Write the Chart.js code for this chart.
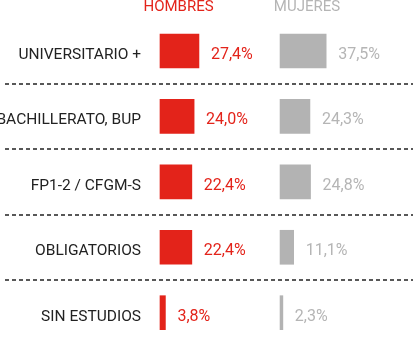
<!DOCTYPE html>
<html>
<head>
<meta charset="utf-8">
<script src="https://cdn.jsdelivr.net/npm/chart.js@4"></script>
<style>
  html, body { margin: 0; padding: 0; background: #fff; }
  #wrap { width: 413px; height: 341px; position: relative; }
</style>
</head>
<body>
<div id="wrap"><canvas id="chart" width="413" height="341"></canvas></div>
<script>
// datos
const categories = ['UNIVERSITARIO +', 'BACHILLERATO, BUP', 'FP1-2 / CFGM-S', 'OBLIGATORIOS', 'SIN ESTUDIOS'];
const hombres = [27.4, 24.0, 22.4, 22.4, 3.8];
const mujeres = [37.5, 24.3, 24.8, 11.1, 2.3];
const seriesNames = ['HOMBRES', 'MUJERES'];

const RED = '#e3231a';
const GREY_BAR = '#b3b3b3';
const GREY_TXT = '#b5b5b5';
const FONT = 'Roboto, "Liberation Sans", sans-serif';

function fmt(v) {
    return v.toFixed(1).replace('.', ',') + '%';
}

// etiquetas, cabeceras y separadores
const decor = {
    id: 'decor',
    afterDatasetsDraw(chart) {
        const ctx = chart.ctx;
        const y = chart.scales.y;
        ctx.save();

        // separadores discontinuos
        ctx.strokeStyle = '#222';
        ctx.lineWidth = 1.5;
        ctx.setLineDash([4, 3]);
        for (let i = 0; i < categories.length - 1; i++) {
            const py = Math.round((y.getPixelForTick(i) + y.getPixelForTick(i + 1)) / 2);
            ctx.beginPath();
            ctx.moveTo(5, py);
            ctx.lineTo(chart.width, py);
            ctx.stroke();
        }
        ctx.setLineDash([]);

        // valores
        ctx.font = '16px ' + FONT;
        ctx.textBaseline = 'middle';
        ctx.textAlign = 'left';
        chart.data.datasets.forEach((ds, di) => {
            ctx.fillStyle = di === 0 ? RED : GREY_TXT;
            chart.getDatasetMeta(di).data.forEach((bar, i) => {
                ctx.fillText(fmt(ds.data[i]), bar.x + 12, bar.y + 4);
            });
        });

        // cabeceras
        ctx.font = '15px ' + FONT;
        ctx.textAlign = 'center';
        ctx.textBaseline = 'alphabetic';
        ctx.fillStyle = RED;
        ctx.fillText(seriesNames[0], 178.5, 11);
        ctx.fillStyle = GREY_TXT;
        ctx.fillText(seriesNames[1], 307, 11);
        ctx.restore();
    }
};

new Chart(document.getElementById('chart'), {
    type: 'bar',
    data: {
        labels: categories,
        datasets: [{
            label: seriesNames[0],
            data: hombres,
            backgroundColor: RED,
            xAxisID: 'xh',
            barThickness: 34,
            grouped: false,
            clip: false
        }, {
            label: seriesNames[1],
            data: mujeres,
            backgroundColor: GREY_BAR,
            xAxisID: 'xm',
            barThickness: 34,
            grouped: false,
            clip: false
        }]
    },
    options: {
        indexAxis: 'y',
        responsive: false,
        animation: false,
        layout: { padding: { top: 51, bottom: 18, left: 0, right: 0 } },
        scales: {
            y: {
                offset: false,
                border: { display: false },
                grid: { display: false, drawTicks: false },
                ticks: {
                    padding: 19,
                    labelOffset: 4,
                    color: '#222',
                    font: { family: FONT, size: 15.5 }
                },
                afterFit(scale) { scale.width = 160; }
            },
            xh: { display: false, min: 0, max: 178 },
            xm: { display: false, min: -97.6, max: 108.1 }
        },
        plugins: {
            legend: { display: false },
            tooltip: { enabled: false }
        }
    },
    plugins: [decor]
});
</script>
</body>
</html>
